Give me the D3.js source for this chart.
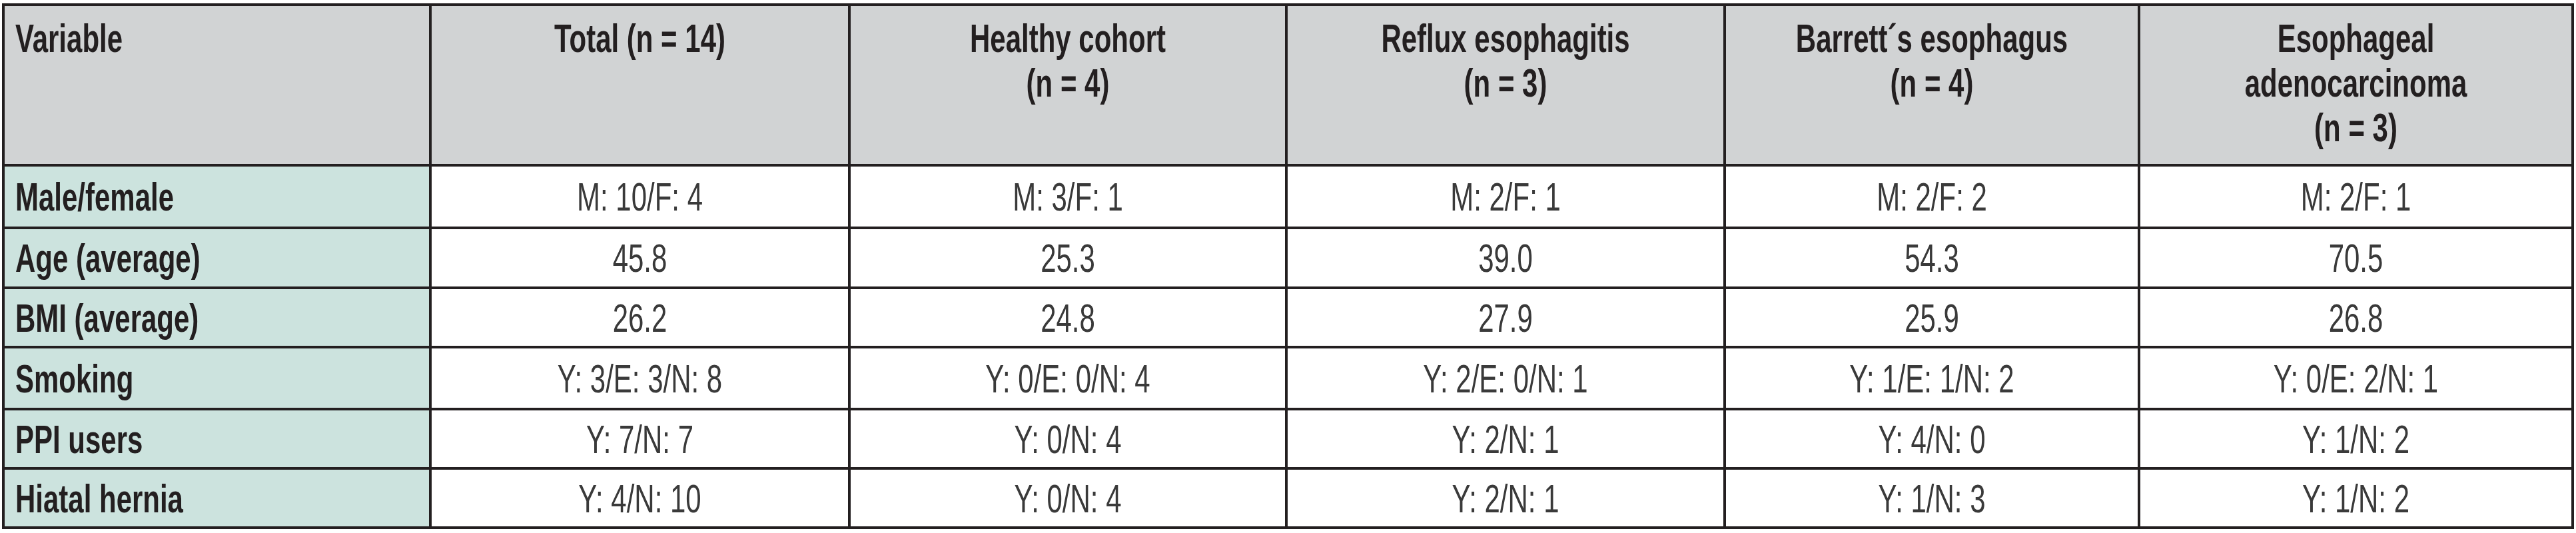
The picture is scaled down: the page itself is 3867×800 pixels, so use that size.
<!DOCTYPE html>
<html><head><meta charset="utf-8">
<script src="https://cdn.jsdelivr.net/npm/d3@7"></script>
<style>body{margin:0;background:#fff}</style></head>
<body><svg id="c" width="3867" height="800"></svg>
<script>
const headers = [["Variable"],["Total (n = 14)"],["Healthy cohort","(n = 4)"],["Reflux esophagitis","(n = 3)"],["Barrett´s esophagus","(n = 4)"],["Esophageal","adenocarcinoma","(n = 3)"]];
const variables = ["Male/female","Age (average)","BMI (average)","Smoking","PPI users","Hiatal hernia"];
const total = ["M: 10/F: 4","45.8","26.2","Y: 3/E: 3/N: 8","Y: 7/N: 7","Y: 4/N: 10"];
const healthy = ["M: 3/F: 1","25.3","24.8","Y: 0/E: 0/N: 4","Y: 0/N: 4","Y: 0/N: 4"];
const reflux = ["M: 2/F: 1","39.0","27.9","Y: 2/E: 0/N: 1","Y: 2/N: 1","Y: 2/N: 1"];
const barrett = ["M: 2/F: 2","54.3","25.9","Y: 1/E: 1/N: 2","Y: 4/N: 0","Y: 1/N: 3"];
const adeno = ["M: 2/F: 1","70.5","26.8","Y: 0/E: 2/N: 1","Y: 1/N: 2","Y: 1/N: 2"];
const cols = [variables,total,healthy,reflux,barrett,adeno];

const svg = d3.select("#c");
const colEdges = [5,646,1275,1931,2589,3211,3862];
const rowEdges = [7,248,342,432,521,614,703,792];
const font = "'Liberation Sans',Arial,sans-serif";
const ink = "#231f20";
const SX = 0.7;

function label(x,y,txt,anchor,bold,fill){
  svg.append("text").attr("transform",`translate(${x},${y}) scale(${SX},1)`)
    .attr("text-anchor",anchor).attr("font-family",font).attr("font-weight",bold?"bold":"normal")
    .attr("font-size",60).attr("fill",fill).text(txt);
}

headers.forEach((h,i)=>{
  svg.append("rect").attr("x",colEdges[i]).attr("y",rowEdges[0]).attr("width",colEdges[i+1]-colEdges[i]).attr("height",rowEdges[1]-rowEdges[0]).attr("fill","#d1d3d4");
  h.forEach((line,k)=>label(i===0? colEdges[0]+18 : (colEdges[i]+colEdges[i+1])/2, 78+k*67, line, i===0?"start":"middle", true, ink));
});
cols.forEach((col,i)=>{
  col.forEach((v,r)=>{
    const y0=rowEdges[r+1], y1=rowEdges[r+2];
    svg.append("rect").attr("x",colEdges[i]).attr("y",y0).attr("width",colEdges[i+1]-colEdges[i]).attr("height",y1-y0).attr("fill", i===0?"#cce3de":"#fff");
    label(i===0? colEdges[0]+18 : (colEdges[i]+colEdges[i+1])/2, (y0+y1)/2+21, v, i===0?"start":"middle", i===0, i===0?ink:"#3a3a3a");
  });
});
colEdges.forEach(x=>svg.append("line").attr("x1",x).attr("x2",x).attr("y1",rowEdges[0]).attr("y2",rowEdges[rowEdges.length-1]).attr("stroke",ink).attr("stroke-width",4));
rowEdges.forEach(y=>svg.append("line").attr("x1",colEdges[0]-2).attr("x2",colEdges[colEdges.length-1]+2).attr("y1",y).attr("y2",y).attr("stroke",ink).attr("stroke-width",4));
</script></body></html>
